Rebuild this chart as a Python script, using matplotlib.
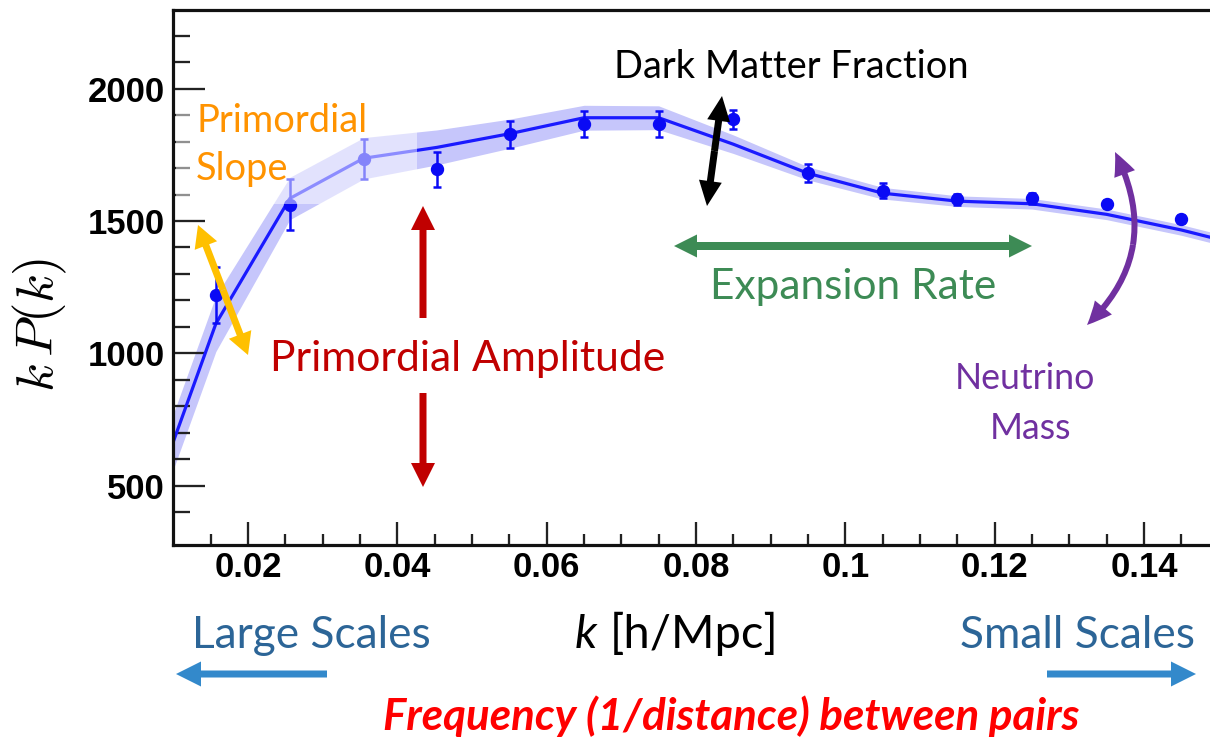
import matplotlib
matplotlib.use("Agg")
import numpy as np
import matplotlib.pyplot as plt
from matplotlib.patches import FancyArrowPatch, Rectangle
from matplotlib.path import Path

# ---- measured band powers k P(k) with errors ----
k_data = [0.0157, 0.0256, 0.0355, 0.0453, 0.0551, 0.065, 0.075,
          0.085, 0.095, 0.105, 0.115, 0.125, 0.135, 0.145]
kp_data = [1220, 1562, 1735, 1696, 1827, 1866, 1866,
           1884, 1680, 1615, 1582, 1585, 1564, 1508]
kp_err = [107, 97, 76, 66, 52, 50, 50,
          35, 34, 30, 20, 22, 15, 15]

# ---- best-fit model curve and its uncertainty band ----
k_model = [0.0055, 0.0157, 0.0256, 0.0355, 0.0453, 0.0551, 0.065, 0.075,
           0.085, 0.095, 0.105, 0.115, 0.125, 0.135, 0.145, 0.155]
kp_model = [314, 1112, 1585, 1737, 1778, 1830, 1890, 1890,
            1790, 1680, 1605, 1575, 1565, 1525, 1466, 1395]
kp_band = [105, 105, 80, 78, 66, 55, 47, 45,
           35, 25, 22, 20, 20, 20, 20, 20]

# ---- axis ticks ----
x_major = [0.02, 0.04, 0.06, 0.08, 0.10, 0.12, 0.14]
x_major_labels = ["0.02", "0.04", "0.06", "0.08", "0.1", "0.12", "0.14"]
y_major = [500, 1000, 1500, 2000]
y_major_labels = ["500", "1000", "1500", "2000"]

W, H = 1210, 741
PX = 0.72  # points per pixel at 100 dpi

plt.rcParams["font.family"] = ["Lato", "DejaVu Sans"]
plt.rcParams["mathtext.fontset"] = "cm"

fig = plt.figure(figsize=(W / 100, H / 100), dpi=100)
renderer = fig.canvas.get_renderer()


def fx(x):
    return x / W


def fy(y):
    return 1 - y / H


# axes frame: k from 0.01 to 0.15, right edge runs past the figure border
ax_left, ax_top, ax_bottom = 173.3, 10, 545
px_per_k = 7467
ax = fig.add_axes([fx(ax_left), fy(ax_bottom),
                   (0.15 - 0.01) * px_per_k / W, (ax_bottom - ax_top) / H])
ax.set_xlim(0.01, 0.15)
ax.set_ylim(276, 2297)

lo = np.array(kp_model) - np.array(kp_band)
hi = np.array(kp_model) + np.array(kp_band)
ax.fill_between(k_model, lo, hi, color="#C6C6FB", lw=0, zorder=1)
ax.plot(k_model, kp_model, color="#1A1AFF", lw=2.3, zorder=2,
        solid_joinstyle="round")
ax.errorbar(k_data, kp_data, yerr=kp_err, fmt="o", color="#0A0AF5",
            ms=8.6, elinewidth=1.8, capsize=2.9, capthick=1.8, zorder=3)

for side in ["left", "top", "bottom"]:
    ax.spines[side].set_linewidth(2.3)
    ax.spines[side].set_color("#111111")
ax.spines["right"].set_visible(False)

tick_font = dict(fontfamily="Liberation Sans", fontweight="bold", fontsize=25)
ax.set_xticks(x_major, x_major_labels, **tick_font)
ax.set_xticks(np.arange(0.015, 0.15, 0.005), minor=True)
ax.set_yticks(y_major, y_major_labels, **tick_font)
ax.set_yticks(np.arange(400, 2300, 100), minor=True)
ax.tick_params(axis="x", which="major", direction="in", length=23 * PX,
               width=2.3 * PX, pad=4, color="#222222")
ax.tick_params(axis="x", which="minor", direction="in", length=11 * PX,
               width=2.3 * PX, color="#222222")
ax.tick_params(axis="y", which="major", direction="in", length=32 * PX,
               width=2.3 * PX, pad=6, color="#222222")
ax.tick_params(axis="y", which="minor", direction="in", length=17 * PX,
               width=2.3 * PX, color="#222222")
ax.tick_params(top=False, right=False, which="both")

# translucent backing of the "Primordial Slope" label
fig.add_artist(Rectangle((fx(176), fy(204)), (417 - 176) / W, (204 - 100) / H,
                         transform=fig.transFigure, facecolor="white",
                         edgecolor="none", alpha=0.5, zorder=3))

fig.text(fx(40), fy(325), r"$k\,P(k)$", rotation=90, ha="center",
         va="center", fontsize=38, color="black")


def label(s, x0, x1, base, color, size=None, **kw):
    t = fig.text(fx(x0), fy(base), s, color=color, ha="left",
                 va="baseline", fontsize=20, zorder=7, **kw)
    if size is None:
        w = t.get_window_extent(renderer).width
        size = 20 * (x1 - x0) / w
    t.set_fontsize(size)
    return size


ORANGE = "#FF9300"
YELLOW = "#FFC000"
DARKRED = "#C00000"
GREEN = "#3D8B55"
PURPLE = "#7030A0"
SCALE_TEXT = "#2C6597"
SCALE_ARROW = "#3389CB"

s = label("Primordial", 196, 368, 132, ORANGE)
label("Slope", 196, 290, 180, ORANGE, size=s)
label("Primordial Amplitude", 270, 667, 371, DARKRED)
label("Dark Matter Fraction", 614, 968, 78, "black")
label("Expansion Rate", 710, 997, 299, GREEN)
s = label("Neutrino", 955, 1096, 389, PURPLE)
label("Mass", 990, 1073, 439, PURPLE, size=s)
s = label("Large Scales", 192, 431, 648, SCALE_TEXT)
label("Small Scales", 960, 1193, 648, SCALE_TEXT, size=s)
s = label("[h/Mpc]", 610, 779, 648, "black")
label("k", 575, 596, 648, "black", size=s, fontstyle="italic")
label("Frequency (1/distance) between pairs", 383, 1078, 730, "#FF0000",
      fontweight="bold", fontstyle="italic")


def style(tail, hl, hw):
    return (f"simple,head_length={hl * PX},head_width={hw * PX},"
            f"tail_width={tail * PX}")


def arrow(p_from, p_to, color, tail=7, hl=24, hw=24):
    a = FancyArrowPatch(posA=(fx(p_from[0]), fy(p_from[1])),
                        posB=(fx(p_to[0]), fy(p_to[1])),
                        transform=fig.transFigure,
                        arrowstyle=style(tail, hl, hw), color=color, lw=0,
                        shrinkA=0, shrinkB=0, mutation_scale=1, zorder=6)
    fig.add_artist(a)


def double_arrow(p1, p2, color, **kw):
    mid = ((p1[0] + p2[0]) / 2, (p1[1] + p2[1]) / 2)
    arrow(mid, p1, color, **kw)
    arrow(mid, p2, color, **kw)


def curved_double_arrow(p0, c, p2, color, tail=6, hl=24, hw=22):
    p0, c, p2 = np.array(p0, float), np.array(c, float), np.array(p2, float)
    m = 0.25 * p0 + 0.5 * c + 0.25 * p2
    for ctrl, tip in [((p0 + c) / 2, p0), ((c + p2) / 2, p2)]:
        verts = [(fx(v[0]), fy(v[1])) for v in (m, ctrl, tip)]
        path = Path(verts, [Path.MOVETO, Path.CURVE3, Path.CURVE3])
        a = FancyArrowPatch(path=path, transform=fig.transFigure,
                            arrowstyle=style(tail, hl, hw), color=color,
                            lw=0, mutation_scale=1, zorder=6)
        fig.add_artist(a)


double_arrow((198, 225), (248, 355), YELLOW, tail=7, hl=22, hw=24)
arrow((423, 318), (423, 206), DARKRED, tail=7, hl=24, hw=24)
arrow((423, 393), (423, 487), DARKRED, tail=7, hl=24, hw=24)
double_arrow((722, 96), (707, 206), "black", tail=7, hl=25, hw=23)
double_arrow((674, 246), (1032, 246), GREEN, tail=8, hl=23, hw=23)
curved_double_arrow((1087, 325), (1165, 251), (1115, 152), PURPLE)
arrow((327, 674), (176, 674), SCALE_ARROW, tail=7, hl=25, hw=25)
arrow((1047, 674), (1196, 674), SCALE_ARROW, tail=7, hl=25, hw=25)

fig.savefig("out.png", dpi=100)
